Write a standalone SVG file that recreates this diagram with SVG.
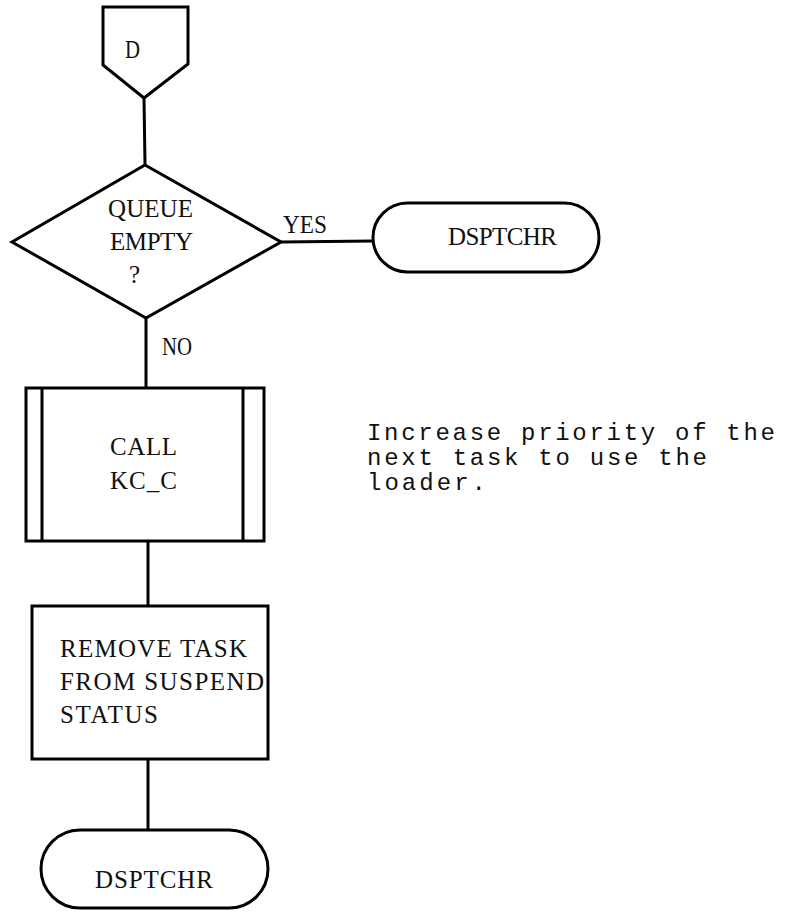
<svg xmlns="http://www.w3.org/2000/svg" width="787" height="914" viewBox="0 0 787 914">
  <style>
    .shape { fill: #ffffff; stroke: #000000; stroke-width: 3; stroke-linejoin: miter; }
    .edge { fill: none; stroke: #000000; stroke-width: 3; }
    .lbl { font-family: "Liberation Serif", "Times New Roman", serif; font-size: 25px; fill: #111111; }
    .note { font-family: "Liberation Mono", "Courier New", monospace; font-size: 24px; fill: #111111; }
  </style>
  <rect x="0" y="0" width="787" height="914" fill="#ffffff"/>

  <!-- connectors -->
  <g id="connectors">
    <line class="edge" x1="144" y1="98" x2="145" y2="165"/>
    <line class="edge" x1="281" y1="242" x2="373" y2="241"/>
    <line class="edge" x1="146" y1="318" x2="146" y2="388"/>
    <line class="edge" x1="148" y1="541" x2="148" y2="606"/>
    <line class="edge" x1="148" y1="759" x2="148" y2="830"/>
    <text class="lbl" x="283" y="233" textLength="44" lengthAdjust="spacingAndGlyphs">YES</text>
    <text class="lbl" x="162" y="355" textLength="30" lengthAdjust="spacingAndGlyphs">NO</text>
  </g>

  <!-- off-page connector D -->
  <g id="connector-d">
    <polygon class="shape" points="103,7 188,7 188,64 144,98 103,65"/>
    <text class="lbl" x="125" y="58" textLength="15" lengthAdjust="spacingAndGlyphs">D</text>
  </g>

  <!-- decision: queue empty? -->
  <g id="queue-empty">
    <polygon class="shape" points="145,165 281,242 146,318 12,242"/>
    <text class="lbl" x="108" y="217" textLength="85" lengthAdjust="spacing">QUEUE</text>
    <text class="lbl" x="110" y="250" textLength="83" lengthAdjust="spacing">EMPTY</text>
    <text class="lbl" x="129" y="283">?</text>
  </g>

  <!-- terminal: DSPTCHR (yes branch) -->
  <g id="dsptchr-yes">
    <rect class="shape" x="373" y="203" width="226" height="69" rx="34.5" ry="34.5"/>
    <text class="lbl" x="448" y="245" textLength="109" lengthAdjust="spacing">DSPTCHR</text>
  </g>

  <!-- predefined process: CALL KC_C -->
  <g id="call-kc-c">
    <rect class="shape" x="26" y="388" width="238" height="153"/>
    <line class="edge" x1="42" y1="388" x2="42" y2="541"/>
    <line class="edge" x1="243" y1="388" x2="243" y2="541"/>
    <text class="lbl" x="110" y="455" textLength="67" lengthAdjust="spacing">CALL</text>
    <text class="lbl" x="110" y="489" textLength="67" lengthAdjust="spacing">KC_C</text>
  </g>

  <!-- process: remove task from suspend status -->
  <g id="remove-task">
    <rect class="shape" x="32" y="606" width="236" height="153"/>
    <text class="lbl" x="60" y="657" textLength="187" lengthAdjust="spacing">REMOVE TASK</text>
    <text class="lbl" x="60" y="690" textLength="204" lengthAdjust="spacing">FROM SUSPEND</text>
    <text class="lbl" x="60" y="723" textLength="98" lengthAdjust="spacing">STATUS</text>
  </g>

  <!-- terminal: DSPTCHR (end) -->
  <g id="dsptchr-end">
    <rect class="shape" x="41" y="830" width="227" height="78" rx="39" ry="39"/>
    <text class="lbl" x="95" y="888" textLength="118" lengthAdjust="spacing">DSPTCHR</text>
  </g>

  <!-- annotation -->
  <g id="note">
    <text class="note" x="367" y="440" textLength="408" lengthAdjust="spacing">Increase priority of the</text>
    <text class="note" x="367" y="465" textLength="340" lengthAdjust="spacing">next task to use the</text>
    <text class="note" x="367" y="490" textLength="119" lengthAdjust="spacing">loader.</text>
  </g>
</svg>
